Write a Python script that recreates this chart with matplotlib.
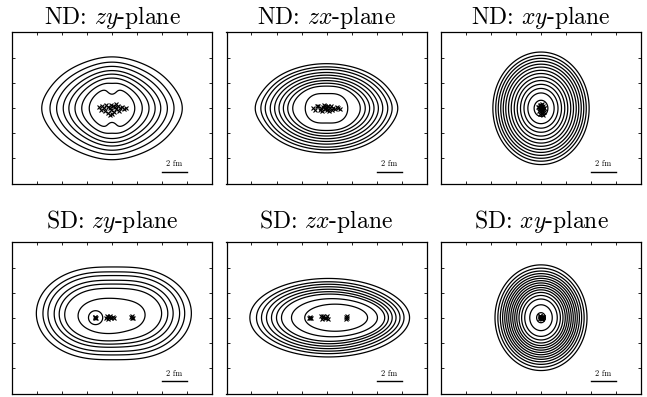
import numpy as np
import matplotlib
matplotlib.use("Agg")
import matplotlib.pyplot as plt

plt.rcParams['font.family'] = 'cmr10'
plt.rcParams['mathtext.fontset'] = 'cm'
plt.rcParams['axes.unicode_minus'] = False

# wave-packet centroids (fm), normal deformed state
nd_x = [0.05, -0.1, 0.15, 0.2, -0.15, 0.0, -0.2, 0.1, 0.25, -0.05, 0.1, -0.1,
        0.0, 0.2, -0.25, 0.05, 0.15, -0.1, 0.05, -0.05, 0.1, 0.0, -0.05, 0.15]
nd_y = [0.08, -0.1, 0.2, 0.0, -0.22, 0.28, 0.12, -0.35, 0.04, 0.3, -0.15, -0.45,
        0.22, -0.28, 0.08, 0.35, -0.08, 0.15, -0.2, 0.04, 0.12, -0.04, 0.0, -0.5]
nd_z = [-1.05, -0.9, -0.8, -0.65, -0.55, -0.45, -0.35, -0.3, -0.2, -0.1, -0.05, 0.0,
        0.05, 0.12, 0.2, 0.28, 0.35, 0.45, 0.55, 0.65, 0.8, 0.95, 1.1, -0.15]

# wave-packet centroids (fm), superdeformed state
sd_x = [0.0, 0.08, -0.06, -0.02, 0.1, -0.1, 0.05, 0.15, -0.05, 0.0, 0.12, -0.12,
        0.04, -0.04, 0.1, -0.08]
sd_y = [0.05, -0.05, 0.0, 0.08, 0.0, 0.1, -0.08, 0.05, 0.12, -0.05, 0.02, 0.0,
        0.06, -0.06, 0.0, 0.1]
sd_z = [-1.4, -1.33, -1.28, -1.36, -0.45, -0.38, -0.3, -0.25, -0.15, -0.05, 0.05, 0.15,
        1.55, 1.6, 1.65, 1.58]

# projected densities as gaussian sums: centre (h, v), widths (h, v), weight
# (negative weights carve the waist of the inner ND zy contour)
nd_zy_comp = dict(ch=[0.0, 0.0, 0.0, 0.0, 0.0], cv=[0.0, 0.0, 0.0, 1.2, -1.2],
                  sh=[2.15, 2.5, 1.3, 0.45, 0.45], sv=[1.6, 1.1, 1.5, 0.5, 0.5],
                  w=[0.8, 0.12, 1.0, -0.5, -0.5])
nd_zx_comp = dict(ch=[0.0, 0.0, -0.7, 0.7, -0.7, 0.7], cv=[0.0, 0.0, 0.5, 0.5, -0.5, -0.5],
                  sh=[2.0, 2.6, 0.8, 0.8, 0.8, 0.8], sv=[1.3, 0.9, 0.7, 0.7, 0.7, 0.7],
                  w=[0.7, 0.02, 0.35, 0.35, 0.35, 0.35])
nd_xy_comp = dict(ch=[0.0], cv=[0.0], sh=[1.6], sv=[1.87], w=[1.0])
sd_zy_comp = dict(ch=[-1.2, 1.5, -0.3, -1.33, 1.6], cv=[0.35, 0.35, 0.0, 0.0, 0.0],
                  sh=[2.0, 2.0, 1.7, 0.3, 0.6], sv=[1.5, 1.5, 1.0, 0.3, 0.6],
                  w=[0.25, 0.25, 0.6, 30.0, 0.15])
sd_zx_comp = dict(ch=[0.15, 1.2], cv=[0.0, 0.0],
                  sh=[2.6, 2.0], sv=[1.3, 0.85], w=[0.5, 0.8])
sd_xy_comp = dict(ch=[0.0], cv=[0.0], sh=[1.55], sv=[1.78], w=[1.0])

# where each contour cuts the horizontal line v = 0 on the left side (fm)
nd_zy_cut = [-5.62, -4.96, -4.43, -3.9, -3.45, -2.96, -2.42, -1.82]
nd_zx_cut = [-5.7, -5.25, -4.9, -4.5, -4.15, -3.8, -3.45, -3.1, -2.7, -1.7]
nd_xy_cut = [-3.85, -3.62, -3.42, -3.22, -3.02, -2.82, -2.6, -2.38, -2.14, -1.9,
             -1.64, -1.36, -1.05, -0.55]
sd_zy_cut = [-6.03, -5.5, -5.1, -4.6, -4.2, -3.76, -2.7, -1.88]
sd_zx_cut = [-6.13, -5.6, -5.2, -4.8, -4.4, -4.0, -3.6, -2.8, -1.74]
sd_xy_cut = [-3.68, -3.45, -3.25, -3.07, -2.9, -2.74, -2.58, -2.42, -2.26, -2.1,
             -1.94, -1.76, -1.55, -1.3, -0.9, -0.35]

titles = ['ND: $zy$-plane', 'ND: $zx$-plane', 'ND: $xy$-plane',
          'SD: $zy$-plane', 'SD: $zx$-plane', 'SD: $xy$-plane']


def density(comp, h, v):
    rho = np.zeros_like(h, dtype=float)
    for ch, cv, sh, sv, w in zip(comp['ch'], comp['cv'], comp['sh'], comp['sv'], comp['w']):
        rho += w * np.exp(-((h - ch) / sh) ** 2 - ((v - cv) / sv) ** 2)
    return rho


panels = [
    (nd_zy_comp, nd_zy_cut, nd_z, nd_y),
    (nd_zx_comp, nd_zx_cut, nd_z, nd_x),
    (nd_xy_comp, nd_xy_cut, nd_x, nd_y),
    (sd_zy_comp, sd_zy_cut, sd_z, sd_y),
    (sd_zx_comp, sd_zx_cut, sd_z, sd_x),
    (sd_xy_comp, sd_xy_cut, sd_x, sd_y),
]

W, H = 647, 397
fig = plt.figure(figsize=(W / 100, H / 100), dpi=100)

col_left = [12, 226.5, 441]
row_top = [32.3, 241.7]
title_pad = [6.0, 9.8]
ax_w, ax_h = 200, 152

hh, vv = np.meshgrid(np.linspace(-8, 8, 641), np.linspace(-6.1, 6.1, 489))

for i, (comp, cut, ph, pv) in enumerate(panels):
    r, c = divmod(i, 3)
    ax = fig.add_axes([col_left[c] / W, 1 - (row_top[r] + ax_h) / H, ax_w / W, ax_h / H])
    rho = density(comp, hh, vv)
    cut = np.array(cut)
    levels = np.sort(density(comp, cut, np.zeros_like(cut)))
    ax.contour(hh, vv, rho, levels=levels, colors='k', linewidths=0.9)
    ax.plot(ph, pv, 'x', color='k', ms=2.5, mew=0.8)

    # 2 fm scale bar
    ax.plot([4, 6], [-5.1, -5.1], color='k', lw=1.0)
    ax.text(5, -4.8, '2 fm', ha='center', va='bottom', fontsize=6)

    ax.set_xlim(-8, 8)
    ax.set_ylim(-6.08, 6.08)
    ax.set_xticks([-6, -4, -2, 0, 2, 4, 6])
    ax.set_yticks([-4, -2, 0, 2, 4])
    ax.tick_params(direction='in', length=2.5, width=0.6, top=True, right=True,
                   labelbottom=False, labelleft=False)
    for s in ax.spines.values():
        s.set_linewidth(0.9)
    ax.set_title(titles[i], fontsize=17, pad=title_pad[r])

fig.savefig('out.png', dpi=100)
